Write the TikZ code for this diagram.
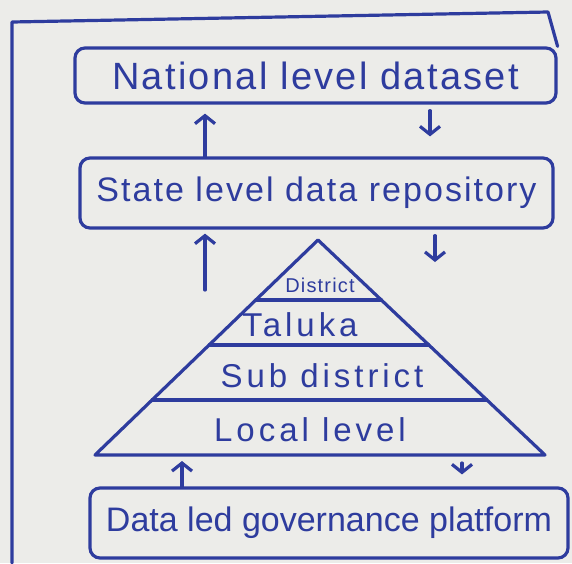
\documentclass[tikz,border=0pt]{standalone}
\usepackage{fontspec}
\setmainfont{Liberation Sans}
\newfontfamily\wideface[LetterSpace=6]{Liberation Sans}
\newfontfamily\widerface[LetterSpace=12]{Liberation Sans}
\usetikzlibrary{arrows.meta,calc}
\definecolor{ink}{HTML}{2E3C9E}
\definecolor{paper}{HTML}{ECECE9}
\begin{document}
\begin{tikzpicture}[x=1pt,y=-1pt,
  inkline/.style={draw=ink,line width=3.2pt,line cap=round,line join=round},
  box/.style={inkline,rounded corners=10pt,inner sep=0pt,text=ink},
  layer/.style={inner sep=0pt,text=ink,font=\widerface\fontsize{33}{35}\selectfont},
  flow/.style={inkline,-{Straight Barb[length=8pt,width=20pt]}}]
  % paper and page size
  \fill[paper] (0,0) rectangle (572,563);
  \useasboundingbox (0,0) rectangle (572,563);

  % boxes
  \node[box,minimum width=481pt,minimum height=55pt,
    font=\wideface\fontsize{38}{40}\selectfont] (national) at (315.5,75.5) {National level dataset};
  \node[box,minimum width=473pt,minimum height=70pt,
    font=\wideface\fontsize{34}{36}\selectfont] (state) at (316.5,193) {State level data repository};
  \node[box,minimum width=478pt,minimum height=70pt,
    font=\fontsize{34}{36}\selectfont] (platform) at (329,523) {Data led governance platform};

  % outer frame
  \draw[inkline] (12,563) -- (12,22) -- (548,12) -- (national.north east);

  % pyramid of administrative levels
  \coordinate (apex) at (318,240);
  \coordinate (bl) at (95,455);
  \coordinate (br) at (545,455);
  \draw[inkline] (bl) -- (apex) -- (br) -- cycle;
  \foreach \f in {0.279,0.488,0.744}
    \draw[inkline] ($(apex)!\f!(bl)$) -- ($(apex)!\f!(br)$);
  \node[layer,font=\wideface\fontsize{20}{22}\selectfont] (district) at (320,285) {District};
  \node[layer] (taluka) at (300,325) {Taluka};
  \node[layer] (subdistrict) at (322,376) {Sub district};
  \node[layer] (local) at (310,430) {Local level};

  % flows between levels
  \coordinate (upA) at (205,0);
  \coordinate (dnB) at (430,0);
  \coordinate (upC) at (205,290);
  \coordinate (dnD) at (435,262);
  \coordinate (upE) at (182,0);
  \coordinate (dnF) at (462,0);
  \draw[flow,shorten >=9pt] (state.north -| upA) -- (national.south -| upA);
  \draw[flow,shorten <=6pt,shorten >=20pt] (national.south -| dnB) -- (state.north -| dnB);
  \draw[flow,shorten >=4pt] (upC) -- (state.south -| upC);
  \draw[flow,shorten <=6pt] (state.south -| dnD) -- (dnD);
  \draw[flow,shorten >=6pt] (platform.north -| upE) -- (bl -| upE);
  \draw[flow,shorten <=8pt,shorten >=12pt] (bl -| dnF) -- (platform.north -| dnF);
\end{tikzpicture}
\end{document}
